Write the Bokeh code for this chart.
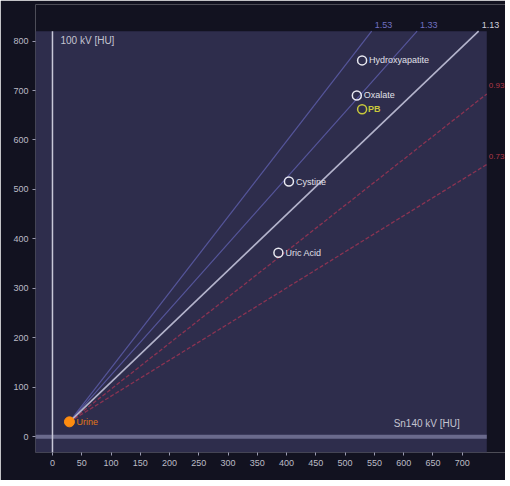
from bokeh.plotting import figure
from bokeh.models import Range1d, Label, FixedTicker, ColumnDataSource, LabelSet, BoxAnnotation
from bokeh.core.properties import value
from bokeh.embed import file_html
from bokeh.resources import INLINE

# data
materials = ["Hydroxyapatite", "Oxalate", "Cystine", "Uric Acid"]
mat_x = [529, 520, 404, 386]
mat_y = [761, 690, 516, 372]
pb_name = ["PB"]
pb_x = [529]
pb_y = [662]
urine_name = ["Urine"]
urine_x = [29]
urine_y = [30]
slopes_blue = [1.53, 1.33]
slope_white = [1.13]
slopes_red = [0.93, 0.73]
x_ticks = list(range(0, 701, 50))
y_ticks = list(range(0, 801, 100))
x_title = "Sn140 kV [HU]"
y_title = "100 kV [HU]"

# data-area limits (navy panel) and outer frame limits
XMIN, XMAX, YMIN, YMAX = -29, 742, -32, 820
XEND, YEND = 774, 874

FONT = "Liberation Sans"

p = figure(frame_width=470, frame_height=448, output_backend="svg", toolbar_location=None,
           x_range=Range1d(XMIN, XEND), y_range=Range1d(YMIN, YEND),
           min_border_left=35, min_border_right=0, min_border_top=4, min_border_bottom=28,
           background_fill_color="#121220", border_fill_color="#121220", outline_line_color=None)
p.grid.visible = False
for ax in (p.xaxis[0], p.yaxis[0]):
    ax.axis_line_color = None
    ax.major_tick_line_color = "#9a9ab0"
    ax.minor_tick_line_color = None
    ax.major_tick_out = 3
    ax.major_tick_in = 0
    ax.major_label_text_color = "#bcbcc6"
    ax.major_label_text_font = FONT
    ax.major_label_text_font_size = "9px"
    ax.major_label_standoff = 4
    ax.axis_label_standoff = 0
p.xaxis.ticker = FixedTicker(ticks=x_ticks)
p.yaxis.ticker = FixedTicker(ticks=y_ticks)

# navy data panel
p.add_layout(BoxAnnotation(right=XMAX, top=YMAX, fill_color="#2e2d4c", fill_alpha=1,
                           line_color=None, level="underlay"))

# zero lines
p.line([XMIN, XMAX], [0, 0], line_color="#6a6a8c", line_width=4)
p.line([0, 0], [YMIN, YMAX], line_color="#c8c8d8", line_width=1.5)

x0, y0 = urine_x[0], urine_y[0]

def draw(slopes, color, width, dash, label_color):
    for s in slopes:
        x_top = x0 + (YMAX - y0) / s
        if x_top <= XMAX:
            xe, ye = x_top, YMAX
        else:
            xe, ye = XMAX, y0 + s * (XMAX - x0)
        p.line([x0, xe], [y0, ye], line_color=color, line_width=width, line_dash=dash)
        if ye >= YMAX:
            p.add_layout(Label(x=xe, y=ye, text=f"{s:.2f}", text_color=label_color,
                               text_font=FONT, text_font_size="9px",
                               x_offset=3, y_offset=3, text_baseline="bottom"))
        else:
            p.add_layout(Label(x=xe, y=ye, text=f"{s:.2f}", text_color=label_color,
                               text_font=FONT, text_font_size="8px",
                               x_offset=2, y_offset=8, text_baseline="middle"))

draw(slopes_blue, "#55559a", 1.2, "solid", "#7070c0")
draw(slopes_red, "#8a3352", 1.3, "4 2", "#b03848")
draw(slope_white, "#b4b4cc", 1.6, "solid", "#d0d0dc")

src = ColumnDataSource(dict(x=mat_x, y=mat_y, name=materials))
p.scatter("x", "y", source=src, size=9, fill_color=None, line_color="#e8e8f0", line_width=1.5)
p.add_layout(LabelSet(x="x", y="y", text="name", source=src, x_offset=7, text_baseline="middle",
                      text_color="#e0e0e8", text_font=value(FONT), text_font_size="9px"))

src2 = ColumnDataSource(dict(x=pb_x, y=pb_y, name=pb_name))
p.scatter("x", "y", source=src2, size=9, fill_color=None, line_color="#c8c83c", line_width=1.5)
p.add_layout(LabelSet(x="x", y="y", text="name", source=src2, x_offset=6, text_baseline="middle",
                      text_color="#c8c83c", text_font=value(FONT), text_font_size="9px",
                      text_font_style="bold"))

src3 = ColumnDataSource(dict(x=urine_x, y=urine_y, name=urine_name))
p.scatter("x", "y", source=src3, size=10, fill_color="#ff8c10", line_color="#ff8c10")
p.add_layout(LabelSet(x="x", y="y", text="name", source=src3, x_offset=7, text_baseline="middle",
                      text_color="#e07818", text_font=value(FONT), text_font_size="9px"))

p.add_layout(Label(x=0, y=YMAX, text=y_title, x_offset=8, y_offset=-4, text_baseline="top",
                   text_color="#c4c4d0", text_font=FONT, text_font_size="10px"))
p.add_layout(Label(x=XMAX, y=0, text=x_title, x_offset=-27, y_offset=8, text_baseline="bottom",
                   text_align="right", text_color="#c4c4d0", text_font=FONT,
                   text_font_size="10px"))

open("out.html", "w").write(file_html(p, INLINE))
